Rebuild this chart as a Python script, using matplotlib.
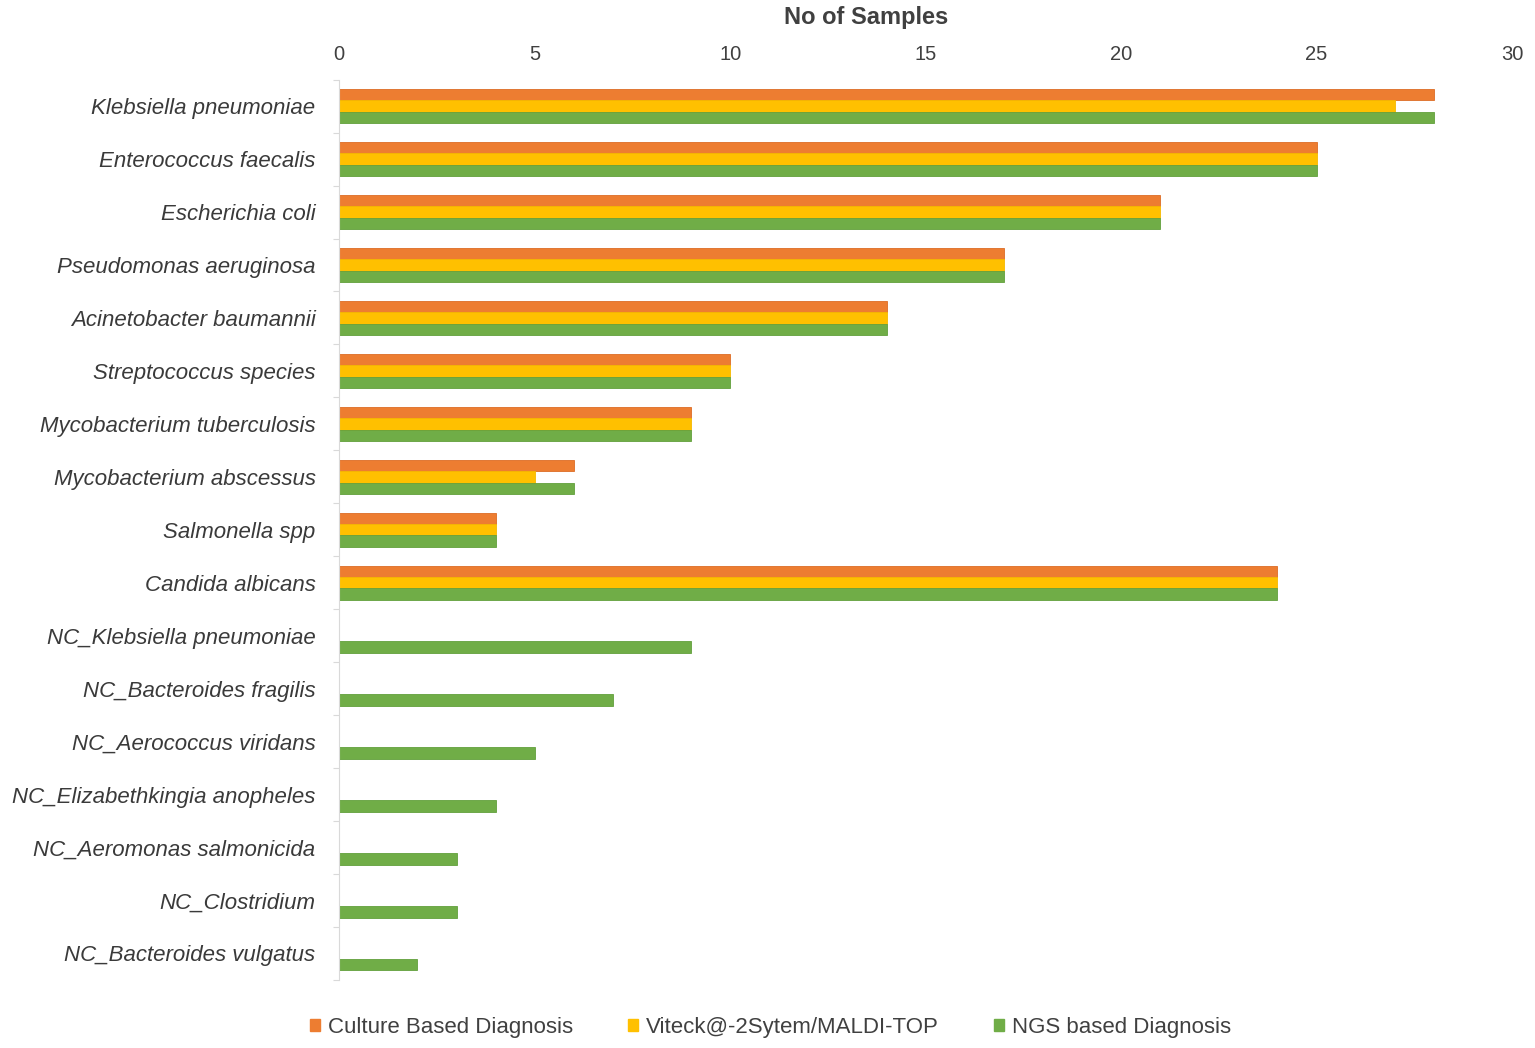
import numpy as np
import matplotlib.pyplot as plt
from matplotlib.patches import Patch

plt.rcParams['font.family'] = ['Liberation Sans', 'DejaVu Sans']

# ---- data (top to bottom) ----
organisms = ['Klebsiella pneumoniae', 'Enterococcus faecalis', 'Escherichia coli',
             'Pseudomonas aeruginosa', 'Acinetobacter baumannii', 'Streptococcus species',
             'Mycobacterium tuberculosis', 'Mycobacterium abscessus', 'Salmonella spp',
             'Candida albicans', 'NC_Klebsiella pneumoniae', 'NC_Bacteroides fragilis',
             'NC_Aerococcus viridans', 'NC_Elizabethkingia anopheles',
             'NC_Aeromonas salmonicida', 'NC_Clostridium', 'NC_Bacteroides vulgatus']
culture = [28, 25, 21, 17, 14, 10, 9, 6, 4, 24, 0, 0, 0, 0, 0, 0, 0]
viteck = [27, 25, 21, 17, 14, 10, 9, 5, 4, 24, 0, 0, 0, 0, 0, 0, 0]
ngs = [28, 25, 21, 17, 14, 10, 9, 6, 4, 24, 9, 7, 5, 4, 3, 3, 2]
series_names = ['Culture Based Diagnosis', 'Viteck@-2Sytem/MALDI-TOP', 'NGS based Diagnosis']

colors = ['#ED7D31', '#FFC000', '#70AD47']
edges = ['#DD6C25', '#F5B800', '#62A03C']

fig = plt.figure(figsize=(15.35, 10.48), dpi=100, facecolor='white')
ax = fig.add_axes([0.221, 0.065, 0.764, 0.859])

y = np.arange(len(organisms))
h = 0.215
for i, vals in enumerate([culture, viteck, ngs]):
    ax.barh(y + (i - 1) * h, vals, height=h, color=colors[i],
            edgecolor=edges[i], linewidth=0.6)

ax.set_ylim(len(organisms) - 0.5, -0.5)
ax.set_xlim(0, 30)
ax.set_xticks(np.arange(0, 31, 5))
ax.xaxis.tick_top()
ax.tick_params(axis='x', length=0, labelsize=14.5, labelcolor='#404040', pad=11)
# title sits a bit left of the axes centre in the reference
ax.text(0.449, 1.069, 'No of Samples', transform=ax.transAxes, ha='center', va='center',
        fontsize=17, fontweight='bold', color='#404040')

ax.set_yticks(y)
ax.set_yticklabels(organisms, fontsize=16, style='italic', color='#3A3A3A')
ax.tick_params(axis='y', which='major', length=0, pad=17)
ax.set_yticks(np.arange(-0.5, len(organisms), 1), minor=True)
ax.tick_params(axis='y', which='minor', length=4, color='#D9D9D9', width=0.8)

for s in ['top', 'right', 'bottom']:
    ax.spines[s].set_visible(False)
ax.spines['left'].set_color('#D9D9D9')
ax.spines['left'].set_linewidth(0.8)

handles = [Patch(facecolor=c, edgecolor=c) for c in colors]
fig.legend(handles, series_names, loc='center', bbox_to_anchor=(0.502, 0.02), ncol=3,
           frameon=False, fontsize=16, handlelength=0.45, handleheight=0.45,
           handletextpad=0.35, columnspacing=2.5, labelcolor='#404040')

fig.savefig('out.png', dpi=100, facecolor='white')
